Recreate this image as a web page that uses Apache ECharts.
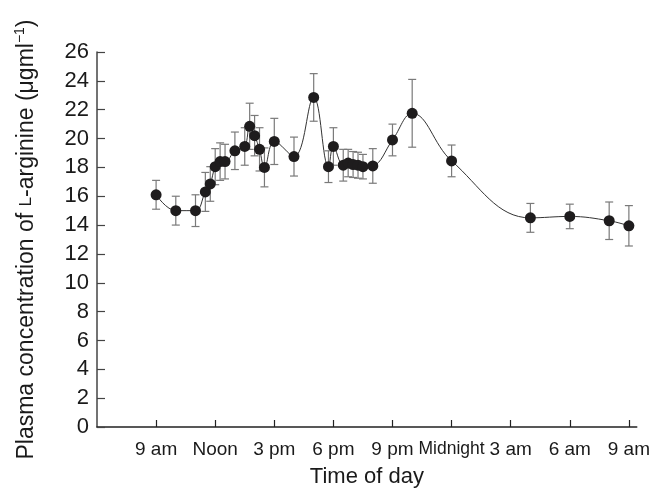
<!DOCTYPE html>
<html>
<head>
<meta charset="utf-8">
<script src="https://cdn.jsdelivr.net/npm/echarts@6/dist/echarts.min.js"></script>
<style>html,body{margin:0;padding:0;background:#fff}#c{width:653px;height:493px}</style>
</head>
<body>
<div id="c"></div>
<script>
var hours = [9,10,11,11.5,11.75,12,12.25,12.5,13,13.5,13.75,14,14.25,14.5,15,16,17,17.75,18,18.5,18.75,19,19.25,19.5,20,21,22,24,28,30,32,33];
var values = [16.1,15.0,15.0,16.3,16.85,18.05,18.4,18.4,19.15,19.45,20.85,20.2,19.25,18.0,19.8,18.75,22.85,18.05,19.45,18.15,18.3,18.2,18.15,18.05,18.1,19.9,21.75,18.45,14.5,14.6,14.3,13.95];
var errors = [1.0,1.0,1.1,1.35,1.2,1.25,1.3,1.2,1.3,1.3,1.6,1.4,1.5,1.35,1.6,1.35,1.65,1.1,1.3,1.1,0.95,0.9,0.9,0.85,1.2,1.1,2.35,1.1,1.0,0.85,1.3,1.4];
var xTickValues = [9,12,15,18,21,24,27,30,33];
var xTickLabels = ['9 am','Noon','3 pm','6 pm','9 pm','Midnight','3 am','6 am','9 am'];

var points = hours.map(function(h,i){return [h, values[i]];});
var bars = hours.map(function(h,i){return [h, values[i]-errors[i], values[i]+errors[i]];});

var chart = echarts.init(document.getElementById('c'));
var FONT = 'Liberation Sans, Arial, sans-serif';
chart.setOption({
  animation: false,
  backgroundColor: '#fff',
  grid: {left: 97, right: 11, top: 52, bottom: 65, containLabel: false},
  xAxis: {
    type: 'value', min: 6, max: 33.4,
    name: 'Time of day', nameLocation: 'middle', nameGap: 39,
    nameTextStyle: {fontSize: 22, color: '#1a1a1a', fontFamily: FONT},
    axisLine: {lineStyle: {color: '#222', width: 1.5}},
    axisTick: {inside: true, length: 7, customValues: xTickValues, lineStyle: {color: '#222', width: 1.2}},
    axisLabel: {
      customValues: xTickValues, margin: 13, fontSize: 19, color: '#1a1a1a', fontFamily: FONT,
      formatter: function(v){
        var i = xTickValues.indexOf(v);
        if (i < 0) return '';
        var t = xTickLabels[i];
        return t.length > 6 ? '{n|' + t + '}' : t;
      },
      rich: {n: {fontSize: 17.5, fontFamily: FONT, color: '#1a1a1a'}}
    },
    splitLine: {show: false}
  },
  yAxis: {
    type: 'value', min: 0, max: 26, interval: 2,
    name: 'Plasma concentration of {sc|L}-arginine (μgml{sup|−1})',
    nameLocation: 'middle', nameGap: 57, nameRotate: 90,
    nameTextStyle: {
      fontSize: 23, color: '#1a1a1a', fontFamily: FONT, lineHeight: 27,
      rich: {
        sc: {fontSize: 17, fontFamily: FONT, color: '#1a1a1a', lineHeight: 27},
        sup: {fontSize: 14, fontFamily: FONT, color: '#1a1a1a', lineHeight: 27, verticalAlign: 'top', padding: [0,0,10,0]}
      }
    },
    axisLine: {show: true, lineStyle: {color: '#444', width: 1.5}},
    axisTick: {show: true, inside: true, length: 8, lineStyle: {color: '#444', width: 1.2}},
    axisLabel: {margin: 8, fontSize: 22, color: '#1a1a1a', fontFamily: FONT},
    splitLine: {show: false}
  },
  series: [
    {
      type: 'custom',
      data: bars,
      z: 2,
      renderItem: function(params, api){
        var x = api.value(0);
        var lo = api.coord([x, api.value(1)]);
        var hi = api.coord([x, api.value(2)]);
        var w = 4;
        var st = {stroke: '#7a7a7a', lineWidth: 1.2};
        return {type: 'group', children: [
          {type: 'line', shape: {x1: lo[0], y1: lo[1], x2: hi[0], y2: hi[1]}, style: st},
          {type: 'line', shape: {x1: lo[0]-w, y1: lo[1], x2: lo[0]+w, y2: lo[1]}, style: st},
          {type: 'line', shape: {x1: hi[0]-w, y1: hi[1], x2: hi[0]+w, y2: hi[1]}, style: st}
        ]};
      }
    },
    {
      type: 'line',
      data: points,
      z: 3,
      smooth: 0.4,
      symbol: 'circle',
      symbolSize: 11,
      lineStyle: {color: '#333', width: 1},
      itemStyle: {color: '#1e1c1d', borderWidth: 0}
    }
  ]
});
</script>
</body>
</html>
